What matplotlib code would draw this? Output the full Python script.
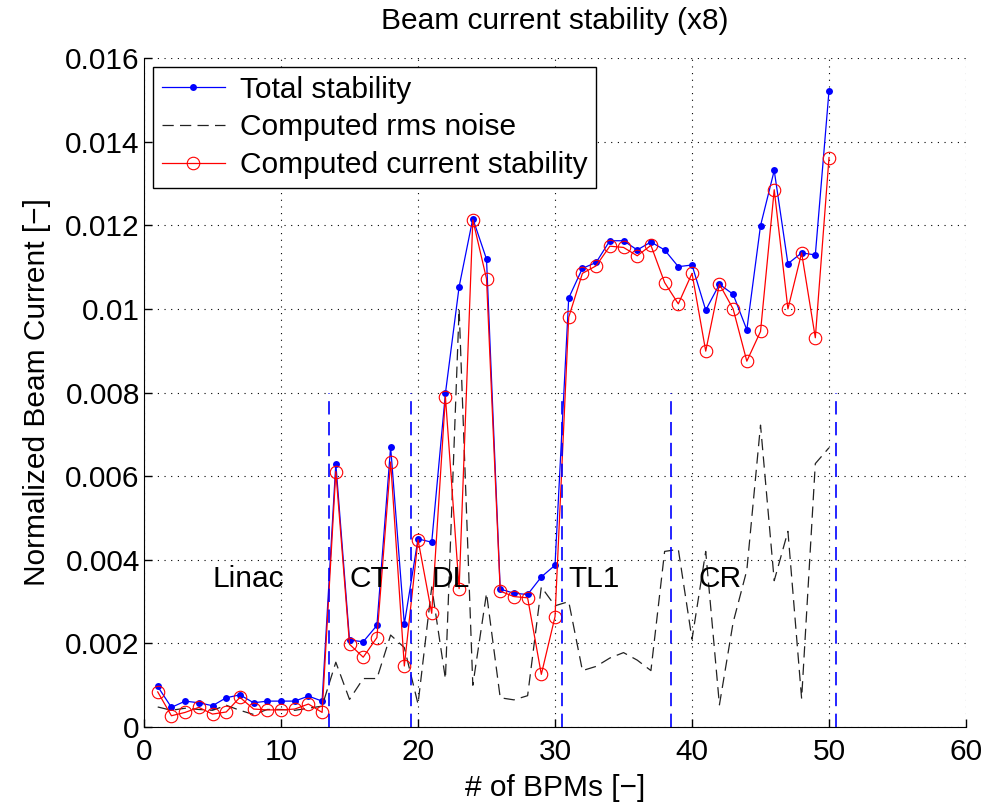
import numpy as np
import matplotlib
matplotlib.use("Agg")
import matplotlib.pyplot as plt

plt.rcParams['font.family'] = ['Liberation Sans', 'DejaVu Sans']

# BPM index and the three curves
bpm = np.arange(1, 51)
total_stability = [0.00097, 0.00047, 0.00062, 0.00058, 0.00051, 0.00070, 0.00077, 0.00058, 0.00062, 0.00062,
                   0.00062, 0.00074, 0.00062, 0.00630, 0.00208, 0.00204, 0.00243, 0.00670, 0.00246, 0.00450,
                   0.00442, 0.00798, 0.01053, 0.01216, 0.01119, 0.00330, 0.00320, 0.00317, 0.00359, 0.00387,
                   0.01026, 0.01097, 0.01111, 0.01163, 0.01163, 0.01141, 0.01160, 0.01141, 0.01101, 0.01105,
                   0.00997, 0.01059, 0.01035, 0.00950, 0.01199, 0.01331, 0.01108, 0.01134, 0.01129, 0.01522]
rms_noise = [0.00048, 0.00040, 0.00045, 0.00042, 0.00040, 0.00052, 0.00040, 0.00030, 0.00042, 0.00042,
             0.00040, 0.00045, 0.00050, 0.00155, 0.00066, 0.00116, 0.00116, 0.00220, 0.00190, 0.00055,
             0.00335, 0.00115, 0.01000, 0.00100, 0.00320, 0.00070, 0.00065, 0.00075, 0.00335, 0.00290,
             0.00300, 0.00135, 0.00145, 0.00165, 0.00178, 0.00160, 0.00135, 0.00420, 0.00425, 0.00210,
             0.00420, 0.00053, 0.00250, 0.00375, 0.00722, 0.00350, 0.00468, 0.00068, 0.00630, 0.00668]
current_stability = [0.00084, 0.00027, 0.00035, 0.00047, 0.00031, 0.00036, 0.00071, 0.00043, 0.00041, 0.00041,
                     0.00043, 0.00055, 0.00035, 0.00611, 0.00198, 0.00167, 0.00214, 0.00634, 0.00146, 0.00448,
                     0.00272, 0.00790, 0.00331, 0.01213, 0.01072, 0.00325, 0.00312, 0.00309, 0.00126, 0.00264,
                     0.00980, 0.01085, 0.01103, 0.01150, 0.01147, 0.01127, 0.01152, 0.01063, 0.01012, 0.01085,
                     0.00899, 0.01059, 0.01000, 0.00875, 0.00946, 0.01285, 0.01000, 0.01134, 0.00931, 0.01362]

# section boundaries and names
section_edges = [13.5, 19.5, 30.5, 38.5, 50.5]
section_names = ['Linac', 'CT', 'DL', 'TL1', 'CR']
section_x = [5, 15, 21, 31, 40.5]

fs = 21.5
fig = plt.figure(figsize=(9.96, 8.08), dpi=100)
ax = fig.add_axes([0.1446, 0.1002, 0.8253, 0.8280])

ax.plot(bpm, total_stability, color='b', lw=0.9, marker='o', ms=5, mew=0,
        label='Total stability')
ax.plot(bpm, rms_noise, color='#222222', lw=0.9, dashes=(9, 5), label='Computed rms noise')
ax.plot(bpm, current_stability, color='r', lw=0.9, marker='o', ms=9, mfc='none', mew=0.8,
        label='Computed current stability')

for xe in section_edges:
    ax.plot([xe, xe], [0, 0.008], color='b', lw=1.2, dashes=(8, 4.5))

for name, xs in zip(section_names, section_x):
    ax.text(xs, 0.00355, name, fontsize=fs, va='center', ha='left')

ax.set_xlim(0, 60)
ax.set_ylim(0, 0.016)
ax.set_xticks(np.arange(0, 61, 10))
ax.set_yticks(np.arange(0, 0.0161, 0.002))
ax.set_yticklabels(['%g' % round(v, 3) for v in np.arange(0, 0.0161, 0.002)])
ax.tick_params(direction='in', labelsize=fs, length=6, width=1, top=False, right=False)
ax.tick_params(axis='y', pad=3)
ax.tick_params(axis='x', pad=8)
ax.grid(True, color='k', lw=0.8, linestyle=(0, (1, 5)))
ax.spines['top'].set_visible(False)
ax.spines['right'].set_visible(False)

ax.set_title('Beam current stability (x8)', fontsize=fs, pad=21)
ax.set_xlabel('# of BPMs [\u2212]', fontsize=fs, labelpad=6)
ax.set_ylabel('Normalized Beam Current [\u2212]', fontsize=fs, labelpad=10)

leg = ax.legend(loc='upper left', fontsize=fs, fancybox=False, framealpha=1, edgecolor='k',
                handlelength=2.1, labelspacing=0.32, borderaxespad=0.3, borderpad=0.3,
                handletextpad=0.5)
leg.get_frame().set_linewidth(1)

fig.savefig('out.png', dpi=100)
